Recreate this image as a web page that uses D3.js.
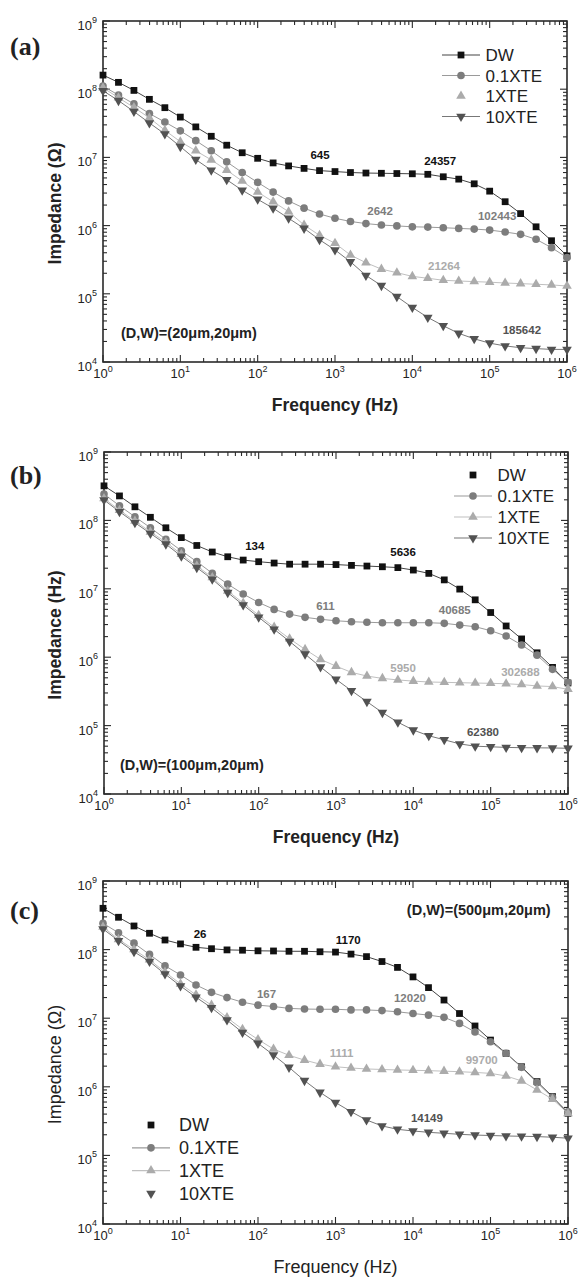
<!DOCTYPE html>
<html><head><meta charset="utf-8">
<script src="https://cdn.jsdelivr.net/npm/d3@7"></script>
<style>body{margin:0;background:#fff}svg{display:block}</style>
</head><body>
<svg id="chart" width="578" height="1277"></svg>
<script>
// ---------- data ----------
const freq = [1, 1.585, 2.512, 3.981, 6.31, 10, 15.85, 25.12, 39.81, 63.1, 100, 158.5, 251.2, 398.1, 631, 1000,
  1585, 2512, 3981, 6310, 1e4, 1.585e4, 2.512e4, 3.981e4, 6.31e4, 1e5, 1.585e5, 2.512e5, 3.981e5, 6.31e5, 1e6];
const seriesNames = ["DW", "0.1XTE", "1XTE", "10XTE"];
const xTickExps = [0, 1, 2, 3, 4, 5, 6];
const yTickExps = [4, 5, 6, 7, 8, 9];
const panelLetters = ["(a)", "(b)", "(c)"];
const yTitles = ["Impedance (\u03A9)", "Impedance (Hz)", "Impedance (\u03A9)"];
const xTitle = "Frequency (Hz)";
const conditions = ["(D,W)=(20\u03BCm,20\u03BCm)", "(D,W)=(100\u03BCm,20\u03BCm)", "(D,W)=(500\u03BCm,20\u03BCm)"];

// panel (a)
const aDW  = [1.61e8,1.26e8,9.6e7,7.1e7,5.36e7,3.9e7,2.8e7,2.04e7,1.51e7,1.17e7,9.7e6,8.3e6,7.5e6,6.9e6,6.4e6,6.2e6,6.0e6,5.9e6,5.85e6,5.8e6,5.75e6,5.65e6,5.2e6,4.8e6,4.1e6,3.2e6,2.24e6,1.5e6,9.6e5,6.0e5,3.6e5];
const a01  = [1.11e8,8.2e7,6.1e7,4.4e7,3.3e7,2.45e7,1.76e7,1.25e7,8.6e6,6.0e6,4.3e6,3.1e6,2.3e6,1.8e6,1.48e6,1.28e6,1.15e6,1.07e6,1.02e6,9.9e5,9.6e5,9.5e5,9.3e5,9.1e5,8.9e5,8.6e5,8.05e5,7.45e5,6.3e5,4.75e5,3.4e5];
const a1   = [1.05e8,7.5e7,5.4e7,3.8e7,2.5e7,1.7e7,1.25e7,9.2e6,6.5e6,4.5e6,3.1e6,2.24e6,1.6e6,1.02e6,7.2e5,5.5e5,3.7e5,2.86e5,2.3e5,2.04e5,1.8e5,1.69e5,1.58e5,1.54e5,1.51e5,1.48e5,1.44e5,1.41e5,1.38e5,1.35e5,1.3e5];
const a10  = [9.5e7,6.8e7,4.7e7,3.2e7,2.2e7,1.44e7,9.3e6,6.5e6,4.7e6,3.3e6,2.43e6,1.8e6,1.28e6,9.1e5,6.2e5,4.4e5,2.95e5,1.86e5,1.32e5,9.1e4,6.3e4,4.5e4,3.4e4,2.63e4,2.19e4,1.89e4,1.72e4,1.62e4,1.57e4,1.53e4,1.53e4];
// panel (b)
const bDW  = [3.2e8,2.28e8,1.58e8,1.11e8,7.8e7,5.6e7,4.3e7,3.45e7,2.94e7,2.63e7,2.49e7,2.38e7,2.29e7,2.29e7,2.29e7,2.26e7,2.2e7,2.15e7,2.1e7,2.04e7,1.88e7,1.68e7,1.35e7,9.9e6,6.9e6,4.5e6,2.86e6,1.85e6,1.16e6,7.1e5,4.2e5];
const b01  = [2.43e8,1.64e8,1.13e8,7.8e7,5.3e7,3.6e7,2.49e7,1.69e7,1.17e7,8.4e6,6.3e6,5.0e6,4.27e6,3.83e6,3.58e6,3.41e6,3.3e6,3.24e6,3.19e6,3.19e6,3.19e6,3.19e6,3.13e6,2.95e6,2.79e6,2.44e6,2.04e6,1.51e6,1.07e6,6.65e5,4.27e5];
const b1   = [2.09e8,1.41e8,9.8e7,6.8e7,4.8e7,3.2e7,2.16e7,1.46e7,9.3e6,6.2e6,4.1e6,2.75e6,1.86e6,1.3e6,9.3e5,7.4e5,6.0e5,5.3e5,4.9e5,4.65e5,4.47e5,4.34e5,4.29e5,4.24e5,4.19e5,4.15e5,4.09e5,3.98e5,3.8e5,3.72e5,3.39e5];
const b10  = [1.99e8,1.34e8,9.25e7,6.45e7,4.5e7,3.0e7,2.04e7,1.38e7,8.8e6,5.8e6,3.83e6,2.56e6,1.7e6,1.11e6,7.2e5,4.75e5,3.24e5,2.24e5,1.55e5,1.12e5,8.6e4,7.1e4,6.2e4,5.4e4,5.0e4,4.9e4,4.8e4,4.75e4,4.73e4,4.71e4,4.66e4];
// panel (c)
const cDW  = [4.0e8,2.96e8,2.21e8,1.73e8,1.38e8,1.21e8,1.08e8,1.03e8,9.9e7,9.8e7,9.6e7,9.55e7,9.45e7,9.45e7,9.3e7,9.2e7,8.6e7,7.9e7,6.7e7,5.5e7,4.0e7,2.79e7,1.84e7,1.17e7,7.7e6,4.8e6,3.08e6,1.96e6,1.19e6,7.2e5,4.1e5];
const c01  = [2.42e8,1.76e8,1.24e8,8.5e7,5.8e7,4.27e7,3.05e7,2.38e7,2.0e7,1.71e7,1.55e7,1.48e7,1.39e7,1.36e7,1.35e7,1.35e7,1.32e7,1.32e7,1.29e7,1.24e7,1.17e7,1.11e7,1.03e7,8.4e6,6.3e6,4.54e6,3.08e6,1.92e6,1.15e6,7.0e5,4.3e5];
const c1   = [2.14e8,1.41e8,1.0e8,7.1e7,4.7e7,3.16e7,2.19e7,1.55e7,1.02e7,6.9e6,4.9e6,3.55e6,2.88e6,2.45e6,2.14e6,1.96e6,1.88e6,1.82e6,1.79e6,1.76e6,1.74e6,1.72e6,1.69e6,1.66e6,1.62e6,1.57e6,1.44e6,1.22e6,9.0e5,6.6e5,4.1e5];
const c10  = [2.0e8,1.35e8,9.3e7,6.7e7,4.4e7,2.95e7,2.02e7,1.42e7,9.4e6,6.2e6,4.3e6,2.91e6,1.92e6,1.23e6,8.3e5,5.9e5,4.34e5,3.28e5,2.69e5,2.4e5,2.27e5,2.17e5,2.1e5,2.03e5,1.98e5,1.95e5,1.92e5,1.9e5,1.88e5,1.84e5,1.78e5];

// annotations: [text, frequency at label, impedance at label, series index]
const aNotes = [["645",641,1.08e7,0],["24357",2.29e4,8.95e6,0],["2642",3830,1.66e6,1],["102443",1.25e5,1.38e6,1],["21264",2.57e4,2.58e5,2],["185642",2.61e5,2.95e4,3]];
const bNotes = [["134",89,4.2e7,0],["5636",7360,3.42e7,0],["611",731,5.66e6,1],["40685",3.43e4,5.0e6,1],["5950",7360,7.0e5,2],["302688",2.42e5,6.08e5,2],["62380",7.95e4,8.05e4,3]];
const cNotes = [["26",17.9,1.69e8,0],["1170",1460,1.38e8,0],["167",129,2.23e7,1],["12020",9140,1.95e7,1],["1111",1200,3.14e6,2],["99700",7.7e4,2.51e6,2],["14149",1.51e4,3.5e5,3]];

// ---------- styles / layout ----------
const FONT = "'Liberation Sans', Arial, Helvetica, sans-serif";
const styles = [
  {sym: d3.symbolSquare,   size: 46, fill: "#111",    line: "#444",    rot: 0},
  {sym: d3.symbolCircle,   size: 46, fill: "#7d7d7d", line: "#9a9a9a", rot: 0},
  {sym: d3.symbolTriangle, size: 40, fill: "#ababab", line: "#c0c0c0", rot: 0},
  {sym: d3.symbolTriangle, size: 40, fill: "#525252", line: "#777",    rot: 180}
];
const panels = [
  {L:103, R:567, T:21,  B:362,  data:[aDW,a01,a1,a10], notes:aNotes, bold:true, labelY:55,
   cond:{f:1.71, z:2.66e4, anchor:"start"},
   legend:{mx:461, y0:55, dy:20.5, tdx:24.5, fs:17, lines:[true,true,false,true]}},
  {L:104, R:568, T:452, B:794,  data:[bDW,b01,b1,b10], notes:bNotes, bold:true, labelY:484,
   cond:{f:1.61, z:2.65e4, anchor:"start"},
   legend:{mx:473, y0:475, dy:21, tdx:24.5, fs:17, lines:[false,true,true,true]}},
  {L:103, R:568, T:881, B:1224, data:[cDW,c01,c1,c10], notes:cNotes, bold:false, labelY:919,
   cond:{f:5.98e5, z:3.78e8, anchor:"end"},
   legend:{mx:151, y0:1125, dy:22.8, tdx:28, fs:18, lines:[false,true,true,false]}}
];

const svg = d3.select("#chart");

function symPath(st){ return d3.symbol().type(st.sym).size(st.size)(); }

panels.forEach((p, pi) => {
  const g = svg.append("g");
  const x = d3.scaleLog().domain([1, 1e6]).range([p.L, p.R]);
  const y = d3.scaleLog().domain([1e4, 1e9]).range([p.B, p.T]);

  // frame
  g.append("rect").attr("x", p.L).attr("y", p.T).attr("width", p.R - p.L).attr("height", p.B - p.T)
    .attr("fill", "none").attr("stroke", "#2a2a2a").attr("stroke-width", 1.6);

  const tk = g.append("g").attr("stroke", "#2a2a2a").attr("stroke-width", 1.1);
  // x ticks (bottom & top, inward)
  xTickExps.forEach((e, i) => {
    const v = Math.pow(10, e), px = x(v);
    tk.append("line").attr("x1", px).attr("x2", px).attr("y1", p.B).attr("y2", p.B - 7);
    tk.append("line").attr("x1", px).attr("x2", px).attr("y1", p.T).attr("y2", p.T + 7);
    if (i < xTickExps.length - 1) for (let k = 2; k <= 9; k++) {
      const mx = x(k * v);
      tk.append("line").attr("x1", mx).attr("x2", mx).attr("y1", p.B).attr("y2", p.B - 4);
      tk.append("line").attr("x1", mx).attr("x2", mx).attr("y1", p.T).attr("y2", p.T + 4);
    }
    const t = g.append("text").attr("x", px).attr("y", p.B + 16).attr("text-anchor", "middle")
      .attr("font-family", FONT).attr("font-size", 13).attr("fill", "#222");
    t.append("tspan").text("10");
    t.append("tspan").attr("dy", -6).attr("font-size", 9).text(e);
  });
  // y ticks (left & right, inward)
  yTickExps.forEach((e, i) => {
    const v = Math.pow(10, e), py = y(v);
    tk.append("line").attr("y1", py).attr("y2", py).attr("x1", p.L).attr("x2", p.L + 7);
    tk.append("line").attr("y1", py).attr("y2", py).attr("x1", p.R).attr("x2", p.R - 7);
    if (i < yTickExps.length - 1) for (let k = 2; k <= 9; k++) {
      const my = y(k * v);
      tk.append("line").attr("y1", my).attr("y2", my).attr("x1", p.L).attr("x2", p.L + 4);
      tk.append("line").attr("y1", my).attr("y2", my).attr("x1", p.R).attr("x2", p.R - 4);
    }
    const t = g.append("text").attr("x", p.L - 6).attr("y", py + 9).attr("text-anchor", "end")
      .attr("font-family", FONT).attr("font-size", 13).attr("fill", "#222");
    t.append("tspan").text("10");
    t.append("tspan").attr("dy", -7).attr("font-size", 9).text(e);
  });

  // axis titles
  const fw = p.bold ? "bold" : "normal";
  g.append("text").attr("x", (p.L + p.R) / 2).attr("y", p.B + 49).attr("text-anchor", "middle")
    .attr("font-family", FONT).attr("font-size", p.bold ? 17.5 : 18).attr("font-weight", fw)
    .attr("fill", "#222").text(xTitle);
  g.append("text").attr("transform", `translate(61,${(p.T + p.B) / 2 + 12}) rotate(-90)`)
    .attr("text-anchor", "middle").attr("font-family", FONT).attr("font-size", p.bold ? 17.5 : 18)
    .attr("font-weight", fw).attr("fill", "#222").text(yTitles[pi]);

  // panel letter
  g.append("text").attr("x", 10).attr("y", p.labelY).attr("font-family", "'Liberation Serif', 'Times New Roman', serif")
    .attr("font-size", 26).attr("font-weight", "bold").attr("fill", "#222").text(panelLetters[pi]);

  // series
  const line = d3.line().x((d, i) => x(freq[i])).y(d => y(d));
  p.data.forEach((vals, si) => {
    const st = styles[si];
    g.append("path").datum(vals).attr("d", line).attr("fill", "none")
      .attr("stroke", st.line).attr("stroke-width", 1);
    g.append("g").selectAll("path").data(vals).join("path")
      .attr("d", symPath(st)).attr("fill", st.fill)
      .attr("transform", (d, i) => `translate(${x(freq[i])},${y(d)}) rotate(${st.rot})`);
  });

  // annotations
  p.notes.forEach(n => {
    g.append("text").attr("x", x(n[1])).attr("y", y(n[2])).attr("dy", "0.36em")
      .attr("text-anchor", "middle").attr("font-family", FONT).attr("font-size", 11.5)
      .attr("font-weight", "bold").attr("fill", styles[n[3]].fill).text(n[0]);
  });

  // condition text
  g.append("text").attr("x", x(p.cond.f)).attr("y", y(p.cond.z)).attr("dy", "0.36em")
    .attr("text-anchor", p.cond.anchor).attr("font-family", FONT).attr("font-size", 14.5)
    .attr("font-weight", "bold").attr("fill", "#222").text(conditions[pi]);

  // legend
  const lg = p.legend;
  seriesNames.forEach((name, si) => {
    const st = styles[si], ly = lg.y0 + si * lg.dy;
    if (lg.lines[si]) g.append("line").attr("x1", lg.mx - 19).attr("x2", lg.mx + 19)
      .attr("y1", ly).attr("y2", ly).attr("stroke", st.line).attr("stroke-width", 1.2);
    g.append("path").attr("d", symPath(st)).attr("fill", st.fill)
      .attr("transform", `translate(${lg.mx},${ly}) rotate(${st.rot})`);
    g.append("text").attr("x", lg.mx + lg.tdx).attr("y", ly).attr("dy", "0.36em")
      .attr("font-family", FONT).attr("font-size", lg.fs).attr("fill", "#222").text(name);
  });
});
</script>
</body></html>
